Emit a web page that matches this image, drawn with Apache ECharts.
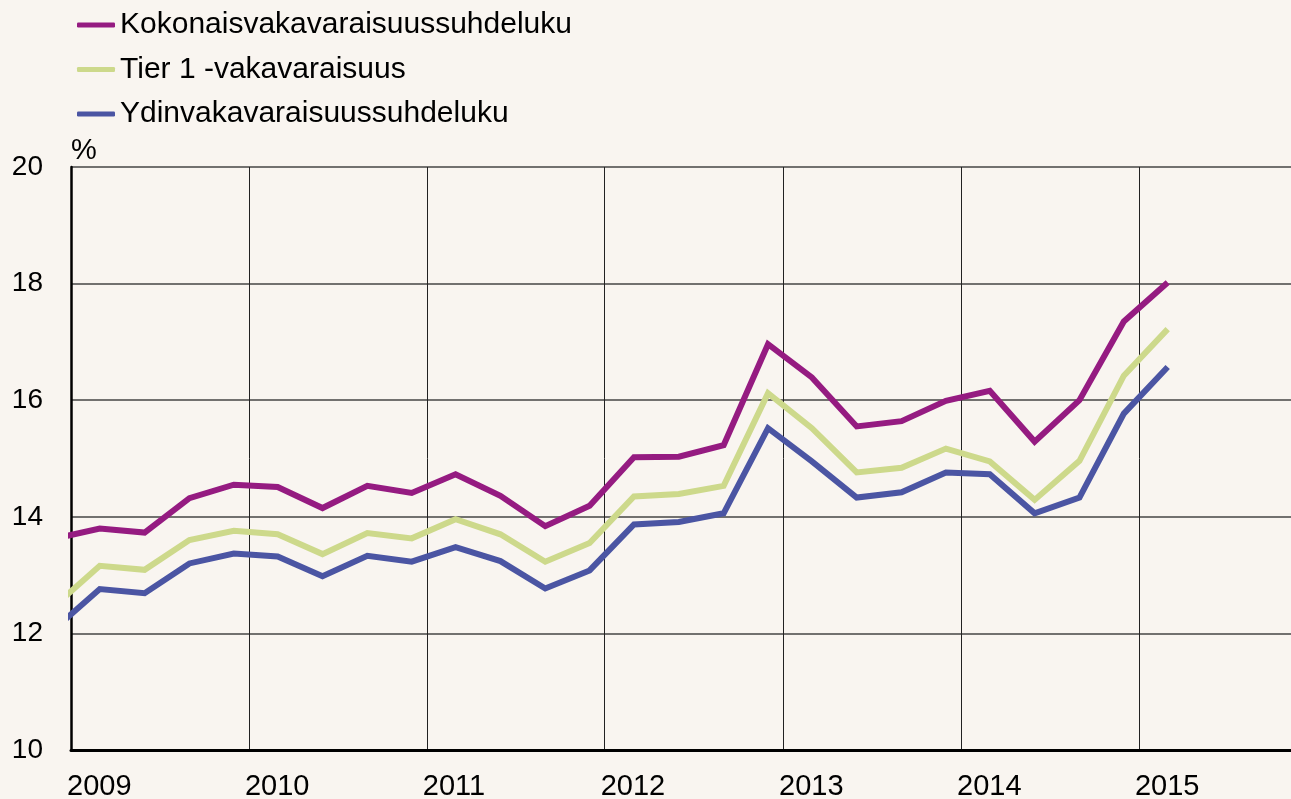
<!DOCTYPE html>
<html>
<head>
<meta charset="utf-8">
<style>
  html, body { margin: 0; padding: 0; background: #f9f5f0; }
  #chart { width: 1291px; height: 799px; }
</style>
<script src="https://cdn.jsdelivr.net/npm/echarts@6/dist/echarts.min.js"></script>
</head>
<body>
<div id="chart"></div>
<script>
// quarterly observations, plotted at the first day of the quarter's last month
const dates = [
  '2008-12-01',
  '2009-03-01', '2009-06-01', '2009-09-01', '2009-12-01',
  '2010-03-01', '2010-06-01', '2010-09-01', '2010-12-01',
  '2011-03-01', '2011-06-01', '2011-09-01', '2011-12-01',
  '2012-03-01', '2012-06-01', '2012-09-01', '2012-12-01',
  '2013-03-01', '2013-06-01', '2013-09-01', '2013-12-01',
  '2014-03-01', '2014-06-01', '2014-09-01', '2014-12-01',
  '2015-03-01'
]

const kokonais = [
  13.63,
  13.80, 13.73, 14.32, 14.55,
  14.51, 14.15, 14.53, 14.41,
  14.73, 14.36, 13.84, 14.19,
  15.02, 15.03, 15.23, 16.96,
  16.39, 15.55, 15.64, 15.99,
  16.16, 15.29, 16.00, 17.35,
  18.02
]

const tier1 = [
  12.49,
  13.16, 13.09, 13.60, 13.76,
  13.70, 13.36, 13.72, 13.63,
  13.96, 13.70, 13.23, 13.55,
  14.35, 14.39, 14.53, 16.12,
  15.52, 14.76, 14.84, 15.17,
  14.95, 14.29, 14.96, 16.42,
  17.22
]

const ydin = [
  12.10,
  12.76, 12.69, 13.20, 13.37,
  13.32, 12.98, 13.33, 13.23,
  13.48, 13.24, 12.77, 13.08,
  13.87, 13.91, 14.06, 15.52,
  14.95, 14.33, 14.42, 14.76,
  14.73, 14.06, 14.33, 15.77,
  16.57
]

const seriesNames = ['Kokonaisvakavaraisuussuhdeluku', 'Tier 1 -vakavaraisuus', 'Ydinvakavaraisuussuhdeluku']

const FONT = '"Liberation Sans", Arial, sans-serif'
const DAY = 24 * 3600 * 1000

const chart = echarts.init(document.getElementById('chart'))

function pairs(values) {
  return dates.map((d, i) => [d, values[i]])
}

function lineSeries(name, values, color) {
  return {
    name: name,
    type: 'line',
    data: pairs(values),
    showSymbol: false,
    symbol: 'none',
    clip: true,
    lineStyle: { color: color, width: 6, join: 'miter' },
    itemStyle: { color: color },
    emphasis: { disabled: true },
  }
}

const option = {
  backgroundColor: '#f9f5f0',
  animation: false,
  legend: {
    orient: 'vertical',
    left: 72,
    top: 5,
    itemWidth: 38,
    itemHeight: 5,
    itemGap: 14.5,
    icon: 'roundRect',
    textStyle: { color: '#000', fontFamily: FONT, fontSize: 30 },
    data: seriesNames,
  },
  grid: {
    left: 71,
    right: 0,
    top: 167,
    bottom: 49,
    outerBoundsMode: 'none',
  },
  xAxis: {
    type: 'time',
    min: '2009-01-01',
    max: '2015-11-09',
    minInterval: 365 * DAY,
    maxInterval: 366 * DAY,
    axisLine: { show: true, onZero: false, lineStyle: { color: '#000', width: 3 } },
    axisTick: { show: false },
    axisLabel: {
      color: '#000',
      fontFamily: FONT,
      fontSize: 29,
      align: 'left',
      margin: 22,
      padding: [0, 0, 0, -4],
      showMaxLabel: false,
      formatter: '{yyyy}',
    },
    splitLine: { show: true, lineStyle: { color: '#222', width: 1 } },
  },
  yAxis: {
    type: 'value',
    min: 10,
    max: 20,
    interval: 2,
    name: '%',
    nameLocation: 'end',
    nameGap: 2,
    nameTextStyle: { color: '#000', fontFamily: FONT, fontSize: 29, align: 'left', verticalAlign: 'bottom' },
    axisLine: { show: true, lineStyle: { color: '#000', width: 2.5 } },
    axisTick: { show: false },
    axisLabel: { color: '#000', fontFamily: FONT, fontSize: 28, margin: 28 },
    splitLine: { show: true, lineStyle: { color: '#444', width: 1.5 } },
  },
  series: [
    lineSeries(seriesNames[0], kokonais, '#951b81'),
    lineSeries(seriesNames[1], tier1, '#cdd98b'),
    lineSeries(seriesNames[2], ydin, '#4b55a3'),
  ],
}

chart.setOption(option)
</script>
</body>
</html>
